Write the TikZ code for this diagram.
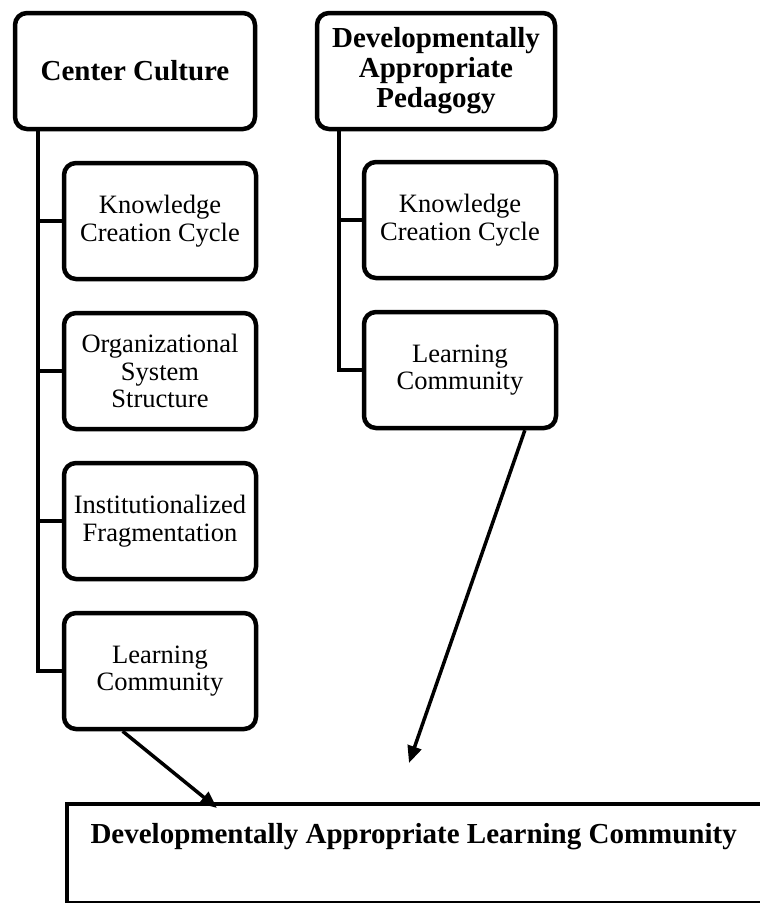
\documentclass[tikz,border=0pt]{standalone}
\usepackage{fontspec}
\setmainfont{Liberation Serif}
\usetikzlibrary{positioning,calc,arrows.meta}

\begin{document}
\begin{tikzpicture}[x=1pt,y=-1pt,
    headbox/.style={draw, line width=4.5pt, rounded corners=12pt, minimum width=240pt, minimum height=116pt, inner sep=2pt, align=center, font=\fontsize{29}{30}\selectfont\bfseries},
    subbox/.style={draw, line width=4.5pt, rounded corners=12pt, minimum width=192pt, minimum height=116pt, inner sep=2pt, align=center, font=\fontsize{26.5}{27.5}\selectfont},
    trunk/.style={line width=4pt},
    arr/.style={line width=3.5pt, -{Triangle[length=17pt,width=14pt]}}]
            \useasboundingbox (0,0) rectangle (760,903);
            \node[headbox] (cc) at (135,71) {Center Culture};
            \node[subbox] (kcc) at (160,221) {Knowledge\\Creation Cycle};
            \node[subbox] (oss) at (160,371) {Organizational\\System\\Structure};
            \node[subbox] (inf) at (160,521) {Institutionalized\\Fragmentation};
            \node[subbox] (lc) at (160,671) {Learning\\Community};
            \node[headbox, minimum width=238pt] (dap) at (436,71) {Developmentally\\Appropriate\\Pedagogy};
            \node[subbox] (kccb) at (460,220) {Knowledge\\Creation Cycle};
            \node[subbox] (lcb) at (460,370) {Learning\\Community};
            \node[draw, line width=4pt, minimum width=695pt, minimum height=99pt, inner sep=0pt, outer sep=0pt, anchor=north west] (dalc) at (67,804) {};
            \node[anchor=base west, font=\fontsize{29}{30}\selectfont\bfseries] (dalctitle) at (87,843) {Developmentally Appropriate Learning Community};
            \coordinate (ccroot) at ($(cc.south west)+(25,0)$);
            \coordinate (daproot) at ($(dap.south west)+(24,0)$);
            \draw[trunk] (ccroot) |- (lc.west);
            \foreach \n in {kcc,oss,inf}
                \draw[trunk] (ccroot |- \n.west) -- (\n.west);
            \draw[trunk] (daproot) |- (lcb.west);
            \draw[trunk] (daproot |- kccb.west) -- (kccb.west);
            \coordinate (tipa) at (217,808);
            \coordinate (tipb) at (409,763);
            \draw[arr] ($(lc.south west)!0.31!(lc.south east)$) -- (tipa);
            \draw[arr] ($(lcb.south west)!0.83!(lcb.south east)$) -- (tipb);
        \end{tikzpicture}
\end{document}
